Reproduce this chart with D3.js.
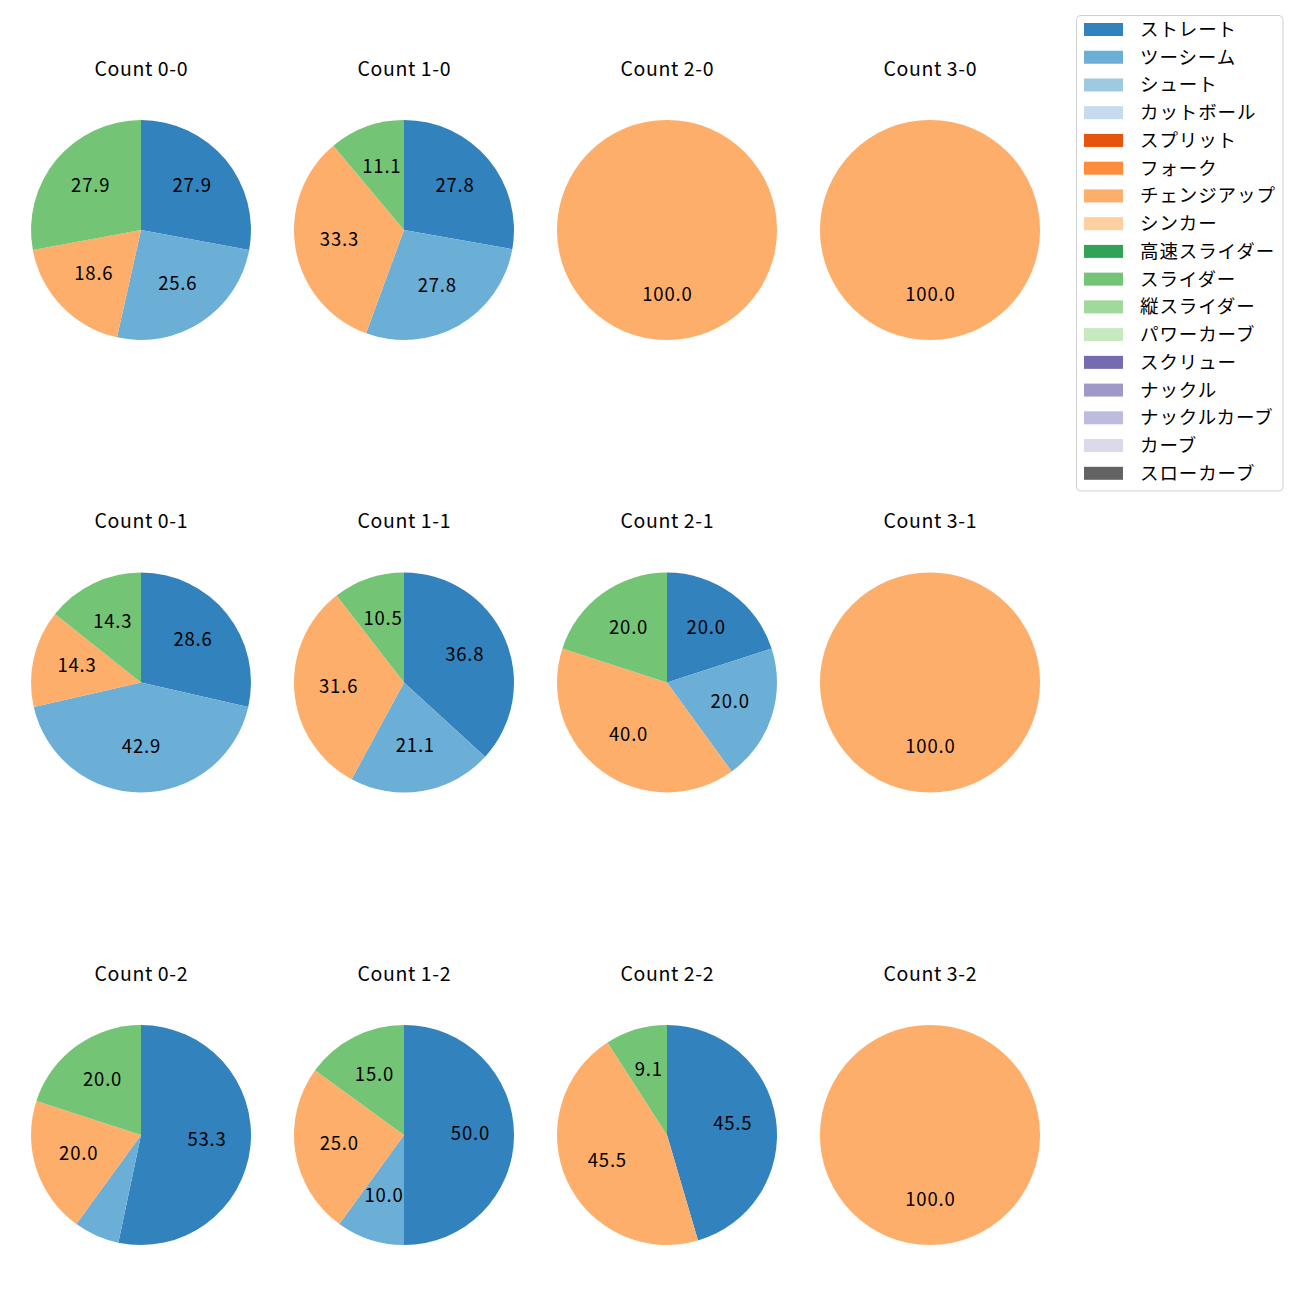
<!DOCTYPE html>
<html><head><meta charset="utf-8">
<script src="https://cdn.jsdelivr.net/npm/d3@7"></script>
<style>body{margin:0;background:#fff}svg{display:block}text{font-family:"Noto Sans CJK JP","Noto Sans",sans-serif}</style>
</head><body><svg id="c" width="1300" height="1300"></svg>
<script>
const pitchTypes = ["ストレート","ツーシーム","シュート","カットボール","スプリット","フォーク","チェンジアップ","シンカー","高速スライダー","スライダー","縦スライダー","パワーカーブ","スクリュー","ナックル","ナックルカーブ","カーブ","スローカーブ"];
const pitchColors = ["#3182bd","#6baed6","#9ecae1","#c6dbef","#e6550d","#fd8d3c","#fdae6b","#fdd0a2","#31a354","#74c476","#a1d99b","#c7e9c0","#756bb1","#9e9ac8","#bcbddc","#dadaeb","#636363"];
const countTitles = ["Count 0-0","Count 1-0","Count 2-0","Count 3-0","Count 0-1","Count 1-1","Count 2-1","Count 3-1","Count 0-2","Count 1-2","Count 2-2","Count 3-2"];
// values per count, in pitchTypes order (percent)
const count00 = [27.9,25.6,0,0,0,0,18.6,0,0,27.9,0,0,0,0,0,0,0];
const count10 = [27.8,27.8,0,0,0,0,33.3,0,0,11.1,0,0,0,0,0,0,0];
const count20 = [0,0,0,0,0,0,100,0,0,0,0,0,0,0,0,0,0];
const count30 = [0,0,0,0,0,0,100,0,0,0,0,0,0,0,0,0,0];
const count01 = [28.6,42.9,0,0,0,0,14.3,0,0,14.3,0,0,0,0,0,0,0];
const count11 = [36.8,21.1,0,0,0,0,31.6,0,0,10.5,0,0,0,0,0,0,0];
const count21 = [20.0,20.0,0,0,0,0,40.0,0,0,20.0,0,0,0,0,0,0,0];
const count31 = [0,0,0,0,0,0,100,0,0,0,0,0,0,0,0,0,0];
const count02 = [53.3,6.7,0,0,0,0,20.0,0,0,20.0,0,0,0,0,0,0,0];
const count12 = [50.0,10.0,0,0,0,0,25.0,0,0,15.0,0,0,0,0,0,0,0];
const count22 = [45.5,0,0,0,0,0,45.5,0,0,9.1,0,0,0,0,0,0,0];
const count32 = [0,0,0,0,0,0,100,0,0,0,0,0,0,0,0,0,0];
const countValues = [count00,count10,count20,count30,count01,count11,count21,count31,count02,count12,count22,count32];

const svg = d3.select("#c");
const colX = d3.scalePoint().domain([0,1,2,3]).range([141,930]);
const rowY = d3.scalePoint().domain([0,1,2]).range([230,1135]);
const color = d3.scaleOrdinal().domain(pitchTypes).range(pitchColors);
const R = 110;
const pie = d3.pie().sort(null).value(d => d.v);
const arc = d3.arc().innerRadius(0).outerRadius(R);
const labelArc = d3.arc().innerRadius(R*0.6).outerRadius(R*0.6);

countValues.forEach((vals, i) => {
  const cx = colX(i % 4), cy = rowY(Math.floor(i / 4));
  const data = vals.map((v, k) => ({name: pitchTypes[k], v})).filter(d => d.v > 0);
  const g = svg.append("g").attr("transform", `translate(${cx},${cy})`);
  const arcs = pie(data);
  g.selectAll("path").data(arcs).join("path")
    .attr("d", arc).attr("fill", d => color(d.data.name));
  g.selectAll("text.lbl").data(arcs.filter(d => d.data.v >= 7)).join("text")
    .attr("class","lbl")
    .attr("transform", d => `translate(${labelArc.centroid(d)})`)
    .attr("text-anchor","middle").attr("dy","0.25em").attr("dx", 0.4)
    .attr("font-size", 18.5).attr("letter-spacing", 0.8).attr("fill","#000")
    .text(d => d.data.v.toFixed(1));
  svg.append("text").attr("x", cx + 0.3).attr("y", cy - 161)
    .attr("text-anchor","middle").attr("dy","0.35em")
    .attr("font-size", 19.5).attr("letter-spacing", 0.6).attr("fill","#000")
    .text(countTitles[i]);
});

// legend
const lg = svg.append("g");
lg.append("rect").attr("x",1076.5).attr("y",15.5).attr("width",206.5).attr("height",475.5)
  .attr("rx",4).attr("fill","#fff").attr("fill-opacity",0.8).attr("stroke","#d0d0d0");
const ly = d3.scalePoint().domain(pitchTypes).range([29.5, 473.3]);
pitchTypes.forEach(p => {
  lg.append("rect").attr("x",1084).attr("y",ly(p)-6.5).attr("width",39).attr("height",13).attr("fill",color(p));
  lg.append("text").attr("x",1140).attr("y",ly(p)).attr("dy","0.35em")
    .attr("font-size",18.5).attr("letter-spacing",0.9).attr("fill","#000").text(p);
});
</script></body></html>
